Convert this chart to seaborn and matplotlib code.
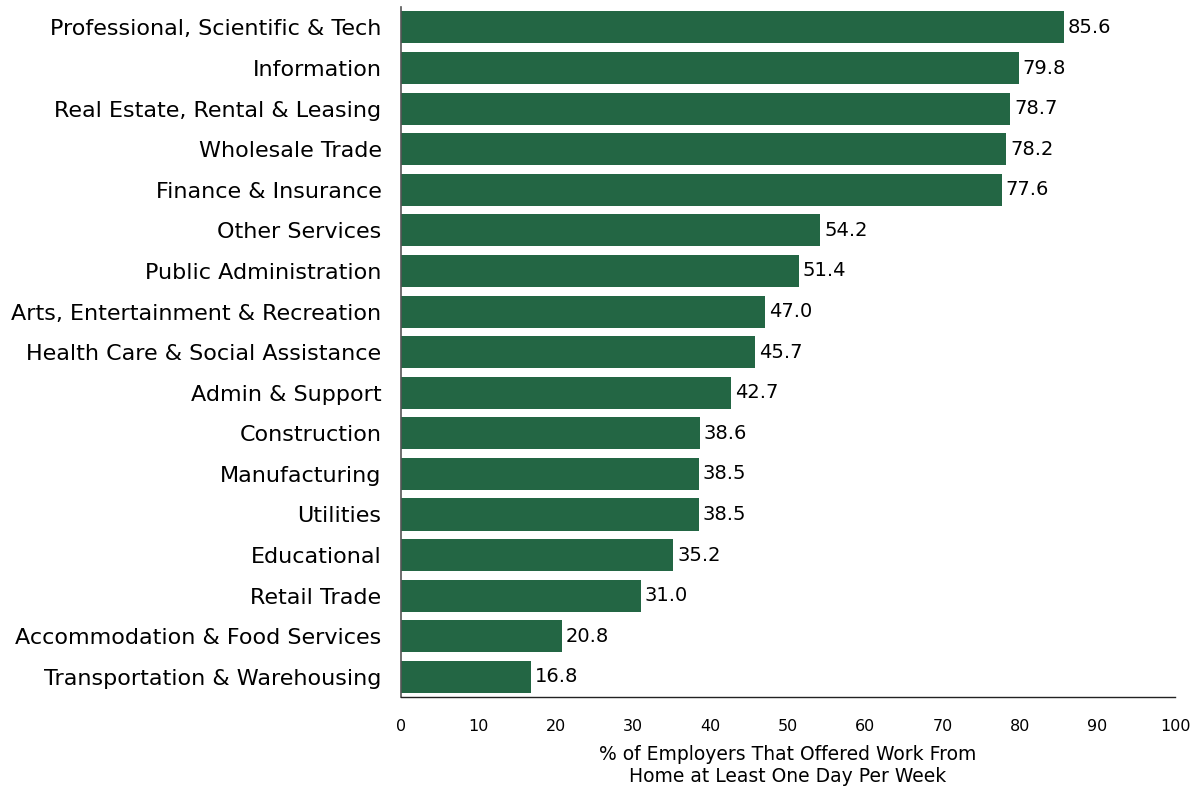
import numpy as np
import pandas as pd
import seaborn as sns
import matplotlib.pyplot as plt

# Data

industries = [
    'Professional, Scientific & Tech',
    'Information',
    'Real Estate, Rental & Leasing',
    'Wholesale Trade',
    'Finance & Insurance',
    'Other Services',
    'Public Administration',
    'Arts, Entertainment & Recreation',
    'Health Care & Social Assistance',
    'Admin & Support',
    'Construction',
    'Manufacturing',
    'Utilities',
    'Educational',
    'Retail Trade',
    'Accommodation & Food Services',
    'Transportation & Warehousing',
]
pct_wfh = [85.6, 79.8, 78.7, 78.2, 77.6, 54.2, 51.4, 47.0, 45.7, 42.7,
           38.6, 38.5, 38.5, 35.2, 31.0, 20.8, 16.8]
x_ticks = [0, 10, 20, 30, 40, 50, 60, 70, 80, 90, 100]

df = pd.DataFrame({'industry': industries, 'pct': pct_wfh})

sns.set_style('white')
plt.rcParams['font.family'] = ['DejaVu Sans']

fig = plt.figure(figsize=(11.99, 7.94), dpi=100)
ax = fig.add_axes([0.3344, 0.122, 0.6456, 0.869])

sns.barplot(data=df, x='pct', y='industry', color='#236644', saturation=1,
            width=0.79, linewidth=0, ax=ax)

for bar, val in zip(ax.patches, df['pct']):
    ax.text(bar.get_width() + 0.5, bar.get_y() + bar.get_height() / 2,
            f'{val:.1f}', va='center', ha='left', fontsize=14, color='black')

ax.set_xlim(0, 100)
ax.set_ylim(16.5, -0.5)
ax.set_xticks(x_ticks)
ax.set_xticklabels([str(t) for t in x_ticks], fontsize=11.5, color='black')
ax.tick_params(axis='x', length=0, pad=16)
ax.tick_params(axis='y', length=0, pad=14, labelsize=16, labelcolor='black')
ax.set_ylabel('')
ax.set_xlabel('% of Employers That Offered Work From\nHome at Least One Day Per Week',
              fontsize=13.5, labelpad=8, color='black')

sns.despine(ax=ax, top=True, right=True)
ax.spines['left'].set_color('#555555')
ax.spines['left'].set_linewidth(1.2)
ax.spines['bottom'].set_color('#222222')
ax.spines['bottom'].set_linewidth(1.0)

fig.savefig('out.png', dpi=100)
